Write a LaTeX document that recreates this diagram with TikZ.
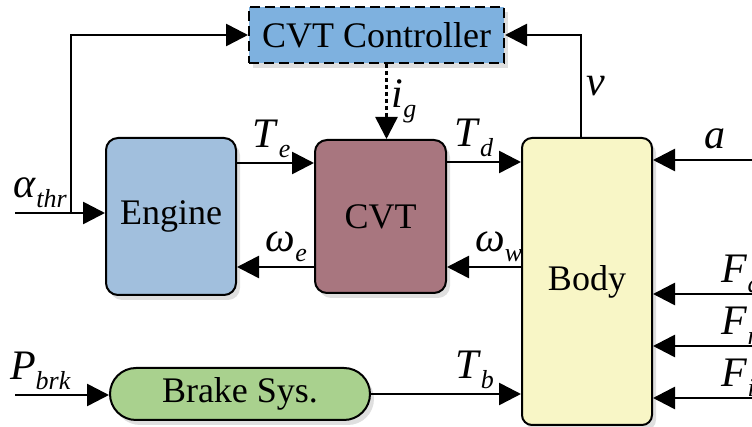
\documentclass[tikz,border=0pt]{standalone}
\usepackage{fontspec}
\setmainfont{Liberation Serif}
\usetikzlibrary{positioning,arrows.meta,shadows,calc}
\definecolor{ctrlblue}{HTML}{7EB1DF}
\definecolor{engblue}{HTML}{A1BFDD}
\definecolor{cvtred}{HTML}{A8767F}
\definecolor{bodyyel}{HTML}{F8F6C6}
\definecolor{brkgreen}{HTML}{A9D18E}
\newcommand{\vsig}[2]{{\fontsize{21}{22}\selectfont\textit{#1}}\raisebox{-0.6ex}{\fontsize{13}{13}\selectfont\textit{#2}}}

\begin{document}
\begin{tikzpicture}[x=0.5pt, y=-0.5pt,
  every node/.style={font=\fontsize{18}{22}\selectfont},
  blockbox/.style={
    draw, line width=1pt,
    rounded corners=6pt,
    inner sep=0pt,
    drop shadow={opacity=0.25, shadow xshift=2pt, shadow yshift=-2.5pt}
  },
  ctrlbox/.style={
    draw, line width=1pt,
    dash pattern=on 5pt off 2.5pt,
    fill=ctrlblue,
    minimum width=127.5pt, minimum height=28pt,
    inner sep=0pt,
    drop shadow={opacity=0.25, shadow xshift=2pt, shadow yshift=-2.5pt}
  },
  sig/.style={line width=1.3pt, -{Triangle[length=11pt,width=11pt]}},
  lbl/.style={inner sep=2pt}
]
  \useasboundingbox (0,0) rectangle (752,427);

  % Bloques
  \node[blockbox, fill=engblue, minimum width=65pt, minimum height=78.5pt] (eng) at (171,216.5) {Engine};
  \node[blockbox, fill=cvtred, minimum width=65.5pt, minimum height=76.5pt, right=38.5pt of eng] (cvt) {CVT};
  \node[blockbox, fill=bodyyel, rounded corners=5pt, minimum width=65pt, minimum height=143.5pt] (body) at (587,281.5) {Body};
  \node[ctrlbox] (ctrl) at (376.5,35) {CVT Controller};
  \node[blockbox, fill=brkgreen, rounded corners=13pt, minimum width=130pt, minimum height=26pt] (brk) at (240,394) {Brake Sys.};

  % Entradas
  \coordinate (ain) at (15,213);
  \coordinate (tap) at (71,213);
  \coordinate (pin) at (15,395);
  \coordinate (accin) at (752,160);
  \coordinate (fdin) at (752,294);
  \coordinate (frin) at (752,346);
  \coordinate (fiin) at (752,398);
  \coordinate (ig) at ([xshift=3pt]cvt.north);
  \coordinate (vout) at ([xshift=-3pt]body.north);

  % Flechas
  \draw[sig] (ain) -- node[lbl, above, pos=0.28] {\vsig{α}{thr}} (eng.west|-ain);
  \draw[sig] (tap) |- (ctrl.west);
  \draw[sig] ([yshift=26.75pt]eng.east) -- node[lbl, above, pos=0.45] {\vsig{T}{e}} ([yshift=26.75pt]eng.east-|cvt.west);
  \draw[sig] ([yshift=-25.25pt]cvt.west) -- node[lbl, above, pos=0.36] {\vsig{ω}{e}} ([yshift=-25.25pt]cvt.west-|eng.east);
  \draw[sig] ([yshift=27.25pt]cvt.east) -- node[lbl, above, pos=0.36] {\vsig{T}{d}} ([yshift=27.25pt]cvt.east-|body.west);
  \draw[sig] ([yshift=-25.25pt]cvt.east-|body.west) -- node[lbl, above, pos=0.3] {\vsig{ω}{w}} ([yshift=-25.25pt]cvt.east);
  \draw[sig, dash pattern=on 2pt off 1.5pt] (ctrl.south-|ig) -- node[lbl, right] {\vsig{i}{g}} (ig);
  \draw[sig] (vout) |- node[lbl, right, pos=0.25] {\textit{\fontsize{21}{22}\selectfont v}} (ctrl.east);
  \draw[sig] (pin) -- node[lbl, above, pos=0.27] {\vsig{P}{brk}} (brk.west|-pin);
  \draw[sig] (brk.east) -- node[lbl, above, pos=0.69] {\vsig{T}{b}} (brk.east-|body.west);

  % Fuerzas
  \draw[sig] (accin) -- node[lbl, above, pos=0.37, inner sep=5pt] {\textit{\fontsize{21}{22}\selectfont a}} (accin-|body.east);
  \draw[sig] (fdin) -- node[lbl, above right, pos=0.32, inner sep=0pt] {\vsig{F}{d}} (fdin-|body.east);
  \draw[sig] (frin) -- node[lbl, above right, pos=0.32, inner sep=0pt] {\vsig{F}{r}} (frin-|body.east);
  \draw[sig] (fiin) -- node[lbl, above right, pos=0.32, inner sep=0pt] {\vsig{F}{i}} (fiin-|body.east);
\end{tikzpicture}
\end{document}
